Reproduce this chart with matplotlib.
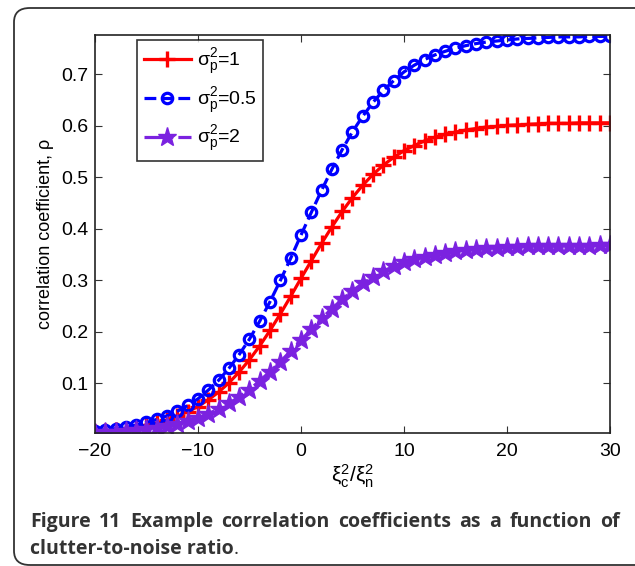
import matplotlib
matplotlib.use("Agg")
import matplotlib.pyplot as plt
from matplotlib.patches import FancyBboxPatch
import numpy as np

# clutter-to-noise ratio (dB)
cnr = list(range(-20, 31))

# sigma_p^2 = 1
rho_1 = [0.006, 0.008, 0.009, 0.012, 0.015, 0.019, 0.023, 0.029, 0.036, 0.045,
         0.055, 0.068, 0.083, 0.101, 0.122, 0.146, 0.173, 0.203, 0.235, 0.269,
         0.304, 0.338, 0.372, 0.404, 0.434, 0.461, 0.485, 0.506, 0.524, 0.539,
         0.552, 0.562, 0.571, 0.578, 0.584, 0.588, 0.592, 0.595, 0.598, 0.599,
         0.601, 0.602, 0.603, 0.604, 0.605, 0.605, 0.605, 0.606, 0.606, 0.606,
         0.606]
# sigma_p^2 = 0.5
rho_05 = [0.008, 0.010, 0.012, 0.015, 0.019, 0.024, 0.030, 0.037, 0.046, 0.057,
          0.070, 0.087, 0.106, 0.129, 0.156, 0.186, 0.221, 0.259, 0.300, 0.343,
          0.388, 0.432, 0.475, 0.516, 0.554, 0.589, 0.619, 0.646, 0.669, 0.688,
          0.705, 0.718, 0.729, 0.738, 0.745, 0.751, 0.756, 0.760, 0.763, 0.765,
          0.767, 0.769, 0.770, 0.771, 0.772, 0.773, 0.773, 0.773, 0.774, 0.774,
          0.774]
# sigma_p^2 = 2
rho_2 = [0.004, 0.005, 0.006, 0.007, 0.009, 0.011, 0.014, 0.018, 0.022, 0.027,
         0.033, 0.041, 0.050, 0.061, 0.074, 0.088, 0.105, 0.123, 0.142, 0.163,
         0.184, 0.205, 0.226, 0.245, 0.263, 0.280, 0.294, 0.307, 0.318, 0.327,
         0.335, 0.341, 0.346, 0.350, 0.354, 0.357, 0.359, 0.361, 0.362, 0.363,
         0.364, 0.365, 0.366, 0.366, 0.367, 0.367, 0.367, 0.367, 0.367, 0.368,
         0.368]

caption_1 = ['Figure', '11', 'Example', 'correlation', 'coefficients', 'as',
             'a', 'function', 'of']
caption_2 = 'clutter-to-noise ratio'

plt.rcParams['font.family'] = ['Liberation Sans', 'DejaVu Sans']
plt.rcParams['mathtext.fontset'] = 'custom'
plt.rcParams['mathtext.rm'] = 'Liberation Sans'
plt.rcParams['mathtext.it'] = 'Liberation Sans'

W, H = 635, 566
fig = plt.figure(figsize=(W / 100, H / 100), dpi=100)
ax = fig.add_axes([0.1496, 0.235, 0.811, 0.703])

purple = '#7b22e0'
ax.plot(cnr, rho_1, '-', color='red', lw=2.3, marker='+', ms=12, mew=2.4,
        label=r'$\mathrm{σ_p^2}$=1')
ax.plot(cnr, rho_05, '--', color='blue', lw=2.3, marker='o', ms=7.5, mew=2.3,
        mfc='none', label=r'$\mathrm{σ_p^2}$=0.5')
ax.plot(cnr, rho_2, '-.', color=purple, lw=2.3, marker='*', ms=14, mew=1,
        label=r'$\mathrm{σ_p^2}$=2')

ax.set_xlim(-20, 30)
ax.set_ylim(0.0036, 0.7765)
ax.set_xticks([-20, -10, 0, 10, 20, 30])
ax.set_yticks([0.1, 0.2, 0.3, 0.4, 0.5, 0.6, 0.7])
ax.tick_params(direction='in', top=True, right=True, length=5, labelsize=14,
               color='#333333')
ax.tick_params(axis='y', pad=5)
ax.tick_params(axis='x', pad=7)
for s in ax.spines.values():
    s.set_linewidth(1.2)
    s.set_color('#222222')

ax.set_xlabel(r'$\mathrm{ξ_c^2/ξ_n^2}$', fontsize=15, labelpad=2)
ax.set_ylabel('correlation coefficient, ρ', fontsize=13, labelpad=5)

leg = ax.legend(loc='upper left', bbox_to_anchor=(0.082, 0.988), fontsize=14,
                frameon=True, fancybox=False, edgecolor='black',
                borderaxespad=0, handlelength=2.4, borderpad=0.35,
                labelspacing=0.45, handletextpad=0.3)
leg.get_frame().set_linewidth(1.2)

# rounded frame around figure and caption
box = FancyBboxPatch((14 / W, 1 / H), 640 / W, 557 / H,
                     boxstyle='round,pad=0,rounding_size=0.025',
                     transform=fig.transFigure, fill=False,
                     edgecolor='#333333', lw=1.3, clip_on=False)
fig.patches.append(box)

# caption, first line justified between x=30 and x=620 px
cap = dict(family=['Open Sans', 'DejaVu Sans'], fontsize=14,
           fontweight='bold', color='#333333', va='baseline')
words = [fig.text(0, 1 - 527 / H, w, **cap) for w in caption_1]
fig.canvas.draw()
r = fig.canvas.get_renderer()
widths = [t.get_window_extent(r).width for t in words]
gap = (620 - 30 - sum(widths)) / (len(words) - 1)
x = 30
for t, w in zip(words, widths):
    t.set_x(x / W)
    x += w + gap

t2 = fig.text(30 / W, 1 - 554 / H, caption_2, **cap)
fig.canvas.draw()
x2 = t2.get_window_extent(r).x1
fig.text(x2 / W, 1 - 554 / H, '.', family=['Open Sans', 'DejaVu Sans'],
         fontsize=14, color='#333333', va='baseline')

fig.savefig('out.png', dpi=100)
